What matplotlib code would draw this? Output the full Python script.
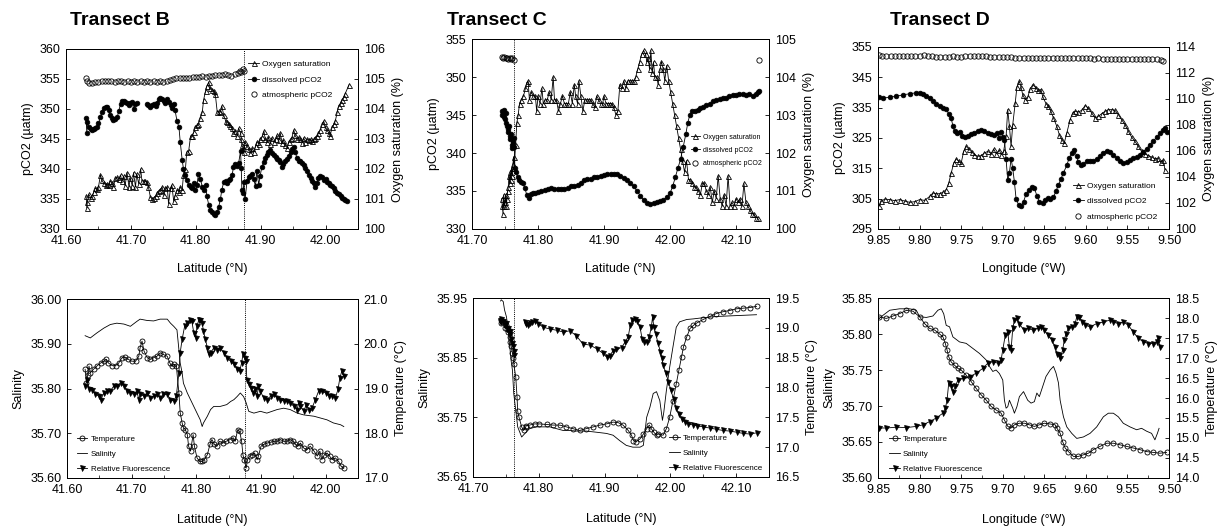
import matplotlib.pyplot as plt
import numpy as np
from matplotlib.ticker import MultipleLocator, FormatStrFormatter

plt.rcParams['font.family'] = ['Liberation Sans', 'DejaVu Sans']
plt.rcParams['font.size'] = 9
plt.rcParams['axes.linewidth'] = 0.7

nan = np.nan

# ---------------- Transect B, surface pCO2 / O2 ----------------
b_dissolved = [
    (41.631, 348.5), (41.632, 346.0), (41.633, 347.8), (41.635, 347.0), (41.638, 346.6), (41.640, 346.5),
    (41.643, 346.7), (41.645, 346.9), (41.648, 347.0), (41.650, 347.6), (41.653, 348.6), (41.655, 349.5),
    (41.658, 350.1), (41.661, 350.4), (41.663, 350.3), (41.666, 349.8), (41.668, 349.0), (41.671, 348.5),
    (41.673, 348.2), (41.676, 348.3), (41.679, 348.6), (41.681, 349.6), (41.684, 350.8), (41.686, 351.3),
    (41.689, 351.4), (41.691, 351.2), (41.694, 351.0), (41.697, 350.7), (41.699, 351.0), (41.702, 351.2),
    (41.704, 350.0), (41.707, 350.8), (41.709, 351.0), (41.717, nan),
    (41.725, 350.9), (41.727, 350.7), (41.730, 350.4), (41.733, 350.6), (41.735, 350.8), (41.738, 350.5),
    (41.740, 351.0), (41.743, 351.6), (41.745, 351.9), (41.748, 351.7), (41.751, 351.3), (41.753, 351.0),
    (41.756, 351.7), (41.758, 351.2), (41.761, 350.6), (41.763, 350.2), (41.766, 350.8), (41.768, 349.8),
    (41.771, 348.0), (41.774, 347.0), (41.776, 344.5), (41.779, 341.5), (41.781, 340.0), (41.784, 339.0),
    (41.786, 338.2), (41.789, 337.3), (41.792, 337.0), (41.794, 336.8), (41.797, 337.6), (41.799, 336.5),
    (41.802, 337.3), (41.804, 339.2), (41.807, 338.4), (41.810, 337.0), (41.812, 336.5), (41.815, 337.4),
    (41.817, 335.5), (41.820, 334.0), (41.822, 333.2), (41.825, 332.9), (41.828, 332.5), (41.830, 332.4),
    (41.833, 332.8), (41.835, 333.6), (41.838, 335.0), (41.840, 336.5), (41.843, 337.8), (41.846, 338.0),
    (41.848, 337.7), (41.851, 338.2), (41.853, 338.4), (41.856, 339.0), (41.858, 340.3), (41.861, 340.8),
    (41.864, 340.5), (41.866, 341.0), (41.869, 343.0), (41.870, 340.2), (41.871, 336.5), (41.873, 336.0),
    (41.874, 337.8), (41.876, 335.0), (41.879, 338.0), (41.882, 338.6), (41.884, 338.8), (41.887, 339.2),
    (41.889, 338.3), (41.892, 337.2), (41.894, 339.6), (41.897, 337.4), (41.899, 338.8), (41.902, 340.4),
    (41.905, 341.2), (41.907, 341.9), (41.910, 342.4), (41.912, 342.9), (41.915, 343.1), (41.917, 342.7),
    (41.920, 342.4), (41.923, 342.0), (41.925, 341.6), (41.928, 341.5), (41.930, 341.2), (41.933, 340.4),
    (41.935, 340.9), (41.938, 341.3), (41.941, 341.6), (41.943, 342.2), (41.946, 342.8), (41.948, 343.3),
    (41.951, 343.6), (41.953, 342.9), (41.956, 341.8), (41.959, 341.4), (41.961, 341.3), (41.964, 341.0),
    (41.966, 340.7), (41.969, 340.2), (41.971, 339.6), (41.974, 339.0), (41.977, 338.5), (41.979, 338.0),
    (41.982, 337.6), (41.984, 337.0), (41.987, 337.7), (41.989, 338.5), (41.992, 338.9), (41.995, 338.6),
    (41.997, 338.1), (42.000, 338.4), (42.002, 337.9), (42.005, 337.6), (42.007, 337.3), (42.010, 337.1),
    (42.013, 336.8), (42.015, 336.4), (42.018, 336.0), (42.020, 335.8), (42.023, 335.5), (42.025, 335.2),
    (42.028, 335.0), (42.030, 334.8), (42.033, 334.7),
]
b_oxygen = [
    (41.631, 101.1), (41.632, 100.7), (41.633, 100.9), (41.635, 101.16), (41.638, 101.04), (41.640, 101.1),
    (41.643, 101.24), (41.645, 101.36), (41.648, 101.32), (41.650, 101.4), (41.653, 101.8), (41.655, 101.64),
    (41.658, 101.52), (41.661, 101.48), (41.663, 101.5), (41.666, 101.46), (41.668, 101.6), (41.671, 101.52),
    (41.673, 101.4), (41.676, 101.7), (41.679, 101.72), (41.681, 101.66), (41.684, 101.8), (41.686, 101.6),
    (41.689, 101.76), (41.691, 101.44), (41.694, 101.88), (41.697, 101.4), (41.699, 101.7), (41.702, 101.44),
    (41.704, 101.88), (41.707, 101.4), (41.709, 101.84), (41.712, 101.5), (41.715, 102.0), (41.717, 101.6),
    (41.720, 101.6), (41.722, 101.6), (41.725, 101.56), (41.727, 101.4), (41.730, 101.06), (41.733, 101.0),
    (41.735, 101.04), (41.738, 101.1), (41.740, 101.2), (41.743, 101.28), (41.745, 101.3), (41.748, 101.4),
    (41.751, 101.12), (41.753, 101.36), (41.756, 101.4), (41.758, 100.84), (41.761, 101.36), (41.763, 101.46),
    (41.766, 100.92), (41.768, 101.1), (41.771, 101.3), (41.774, 101.24), (41.776, 101.4), (41.779, 101.3),
    (41.781, 101.8), (41.784, 102.0), (41.786, 102.56), (41.789, 102.6), (41.792, 103.1), (41.794, 103.1),
    (41.797, 103.24), (41.799, 103.4), (41.802, 103.46), (41.804, 103.5), (41.807, 103.7), (41.810, 103.9),
    (41.812, 104.3), (41.815, 104.6), (41.817, 104.76), (41.820, 104.9), (41.822, 104.7), (41.825, 104.64),
    (41.828, 104.6), (41.830, 104.5), (41.833, 103.9), (41.835, 103.92), (41.838, 103.9), (41.840, 104.1),
    (41.843, 103.8), (41.846, 103.6), (41.848, 103.56), (41.851, 103.5), (41.853, 103.44), (41.856, 103.36),
    (41.858, 103.2), (41.861, 103.28), (41.864, 103.1), (41.866, 103.36), (41.869, 103.2), (41.870, 103.0),
    (41.871, 102.8), (41.873, 102.7), (41.874, 102.56), (41.876, 102.9), (41.879, 102.76), (41.882, 102.66),
    (41.884, 102.52), (41.887, 102.7), (41.889, 102.56), (41.892, 102.76), (41.894, 102.9), (41.897, 102.84),
    (41.899, 103.0), (41.902, 103.06), (41.905, 103.26), (41.907, 103.0), (41.910, 102.9), (41.912, 103.06),
    (41.915, 102.84), (41.917, 103.04), (41.920, 102.9), (41.923, 103.0), (41.925, 103.12), (41.928, 102.96),
    (41.930, 103.2), (41.933, 102.88), (41.935, 102.96), (41.938, 102.8), (41.941, 102.7), (41.943, 102.9),
    (41.946, 103.0), (41.948, 103.04), (41.951, 103.3), (41.953, 103.12), (41.956, 103.0), (41.959, 103.06),
    (41.961, 103.0), (41.964, 102.88), (41.966, 103.04), (41.969, 102.9), (41.971, 103.0), (41.974, 102.96),
    (41.977, 103.0), (41.979, 102.92), (41.982, 103.0), (41.984, 103.04), (41.987, 103.1), (41.989, 103.2),
    (41.992, 103.3), (41.995, 103.5), (41.997, 103.6), (42.000, 103.4), (42.002, 103.3), (42.005, 103.2),
    (42.007, 103.1), (42.010, 103.4), (42.013, 103.5), (42.015, 103.6), (42.018, 103.9), (42.020, 104.1),
    (42.023, 104.2), (42.025, 104.3), (42.028, 104.4), (42.030, 104.5), (42.036, 104.8),
]
b_atmos = [
    (41.631, 355.2), (41.633, 354.6), (41.636, 354.4), (41.640, 354.4), (41.645, 354.5), (41.650, 354.5),
    (41.655, 354.6), (41.660, 354.7), (41.665, 354.6), (41.670, 354.6), (41.675, 354.5), (41.680, 354.6),
    (41.685, 354.6), (41.690, 354.5), (41.695, 354.6), (41.700, 354.5), (41.705, 354.6), (41.710, 354.5),
    (41.715, 354.6), (41.720, 354.5), (41.725, 354.6), (41.730, 354.5), (41.735, 354.6), (41.740, 354.5),
    (41.745, 354.6), (41.750, 354.5), (41.755, 354.7), (41.760, 354.8), (41.765, 355.0), (41.770, 355.1),
    (41.775, 355.1), (41.780, 355.1), (41.785, 355.2), (41.790, 355.2), (41.795, 355.3), (41.800, 355.4),
    (41.805, 355.4), (41.810, 355.5), (41.815, 355.4), (41.820, 355.5), (41.825, 355.5), (41.830, 355.6),
    (41.835, 355.6), (41.840, 355.7), (41.845, 355.8), (41.850, 355.7), (41.855, 355.5), (41.860, 355.8),
    (41.865, 356.0), (41.868, 356.4), (41.870, 356.2), (41.872, 356.6), (41.874, 356.3),
]

# ---------------- Transect C, surface pCO2 / O2 ----------------
c_dissolved = [
    (41.745, 345.5), (41.746, 345.0), (41.747, 345.3), (41.748, 345.6), (41.749, 344.8), (41.750, 344.5),
    (41.751, 345.2), (41.752, 344.0), (41.753, 343.6), (41.754, 343.2), (41.755, 342.8), (41.756, 343.5),
    (41.757, 342.3), (41.758, 341.8), (41.759, 342.5), (41.760, 341.0), (41.761, 340.6), (41.762, 341.5),
    (41.763, 340.8), (41.764, 342.0), (41.765, 338.0), (41.767, 337.5), (41.769, 336.8), (41.771, 336.5),
    (41.774, 336.2), (41.777, 336.0), (41.780, 335.4), (41.783, 334.5), (41.786, 334.1), (41.789, 334.6),
    (41.792, 334.7), (41.796, 334.8), (41.800, 334.9), (41.805, 335.0), (41.810, 335.1), (41.815, 335.3),
    (41.820, 335.4), (41.825, 335.3), (41.830, 335.2), (41.835, 335.3), (41.840, 335.2), (41.845, 335.4),
    (41.850, 335.6), (41.855, 335.7), (41.860, 335.8), (41.865, 336.1), (41.870, 336.5), (41.875, 336.6),
    (41.880, 336.6), (41.885, 336.8), (41.890, 336.9), (41.895, 337.0), (41.900, 337.1), (41.905, 337.2),
    (41.910, 337.2), (41.915, 337.3), (41.920, 337.2), (41.925, 337.0), (41.930, 336.7), (41.935, 336.4),
    (41.940, 336.0), (41.945, 335.6), (41.950, 335.0), (41.955, 334.4), (41.960, 333.8), (41.965, 333.4),
    (41.970, 333.3), (41.975, 333.4), (41.980, 333.6), (41.985, 333.7), (41.990, 333.8), (41.995, 334.2),
    (42.000, 334.7), (42.004, 335.6), (42.008, 336.8), (42.012, 338.0), (42.016, 339.2), (42.020, 340.8),
    (42.024, 342.5), (42.027, 344.0), (42.030, 345.0), (42.034, 345.5), (42.038, 345.5), (42.042, 345.7),
    (42.046, 345.9), (42.050, 346.0), (42.055, 346.3), (42.060, 346.5), (42.065, 346.8), (42.070, 347.0),
    (42.075, 347.1), (42.080, 347.2), (42.085, 347.3), (42.090, 347.5), (42.095, 347.6), (42.100, 347.6),
    (42.105, 347.7), (42.110, 347.8), (42.115, 347.6), (42.120, 347.8), (42.125, 347.5), (42.130, 347.8),
    (42.133, 348.0), (42.135, 348.2),
]
c_oxygen = [
    (41.745, 100.8), (41.746, 100.6), (41.747, 100.4), (41.748, 100.9), (41.749, 100.6), (41.750, 100.7),
    (41.751, 100.9), (41.752, 100.6), (41.753, 100.8), (41.754, 101.0), (41.755, 101.1), (41.756, 101.4),
    (41.757, 101.2), (41.758, 101.5), (41.759, 101.3), (41.760, 101.6), (41.761, 101.4), (41.762, 101.7),
    (41.763, 101.9), (41.764, 101.6), (41.766, 102.2), (41.768, 102.8), (41.770, 103.0), (41.772, 103.3),
    (41.775, 103.4), (41.778, 103.5), (41.781, 103.7), (41.783, 103.85), (41.785, 103.9), (41.787, 103.4),
    (41.790, 103.6), (41.793, 103.5), (41.796, 103.5), (41.798, 103.1), (41.800, 103.5), (41.803, 103.3),
    (41.806, 103.7), (41.808, 103.3), (41.811, 103.4), (41.814, 103.4), (41.817, 103.6), (41.820, 103.4),
    (41.823, 104.0), (41.825, 103.4), (41.828, 103.4), (41.831, 103.1), (41.834, 103.3), (41.837, 103.5),
    (41.840, 103.3), (41.843, 103.3), (41.846, 103.3), (41.849, 103.6), (41.852, 103.3), (41.855, 103.8),
    (41.857, 103.5), (41.860, 103.3), (41.862, 103.9), (41.865, 103.5), (41.868, 103.1), (41.871, 103.4),
    (41.874, 103.4), (41.877, 103.4), (41.880, 103.4), (41.883, 103.3), (41.886, 103.2), (41.889, 103.5),
    (41.892, 103.4), (41.895, 103.3), (41.898, 103.3), (41.900, 103.5), (41.903, 103.3), (41.906, 103.3),
    (41.909, 103.3), (41.912, 103.3), (41.915, 103.2), (41.918, 103.0), (41.921, 103.1), (41.924, 103.8),
    (41.927, 103.7), (41.930, 103.9), (41.933, 103.7), (41.936, 103.9), (41.939, 103.9), (41.942, 103.9),
    (41.945, 103.9), (41.948, 104.0), (41.951, 104.2), (41.954, 104.4), (41.957, 104.6), (41.960, 104.7),
    (41.963, 104.6), (41.965, 104.4), (41.967, 104.5), (41.969, 104.2), (41.971, 104.7), (41.973, 104.1),
    (41.975, 104.4), (41.977, 104.0), (41.980, 104.0), (41.982, 103.8), (41.985, 104.2), (41.987, 104.4),
    (41.990, 104.2), (41.992, 103.9), (41.995, 104.3), (41.998, 103.9), (42.001, 103.6), (42.004, 103.3),
    (42.007, 103.0), (42.010, 102.7), (42.013, 102.4), (42.016, 102.1), (42.019, 101.8), (42.022, 101.5),
    (42.025, 101.8), (42.028, 101.3), (42.031, 101.3), (42.034, 101.2), (42.037, 101.1), (42.040, 101.1),
    (42.043, 101.0), (42.046, 100.9), (42.049, 101.2), (42.052, 101.2), (42.055, 101.0), (42.058, 100.9),
    (42.061, 101.1), (42.064, 100.7), (42.067, 101.0), (42.070, 100.8), (42.073, 101.4), (42.076, 100.8),
    (42.079, 100.6), (42.082, 100.9), (42.085, 100.6), (42.088, 101.4), (42.091, 100.6), (42.094, 100.7),
    (42.097, 100.6), (42.100, 100.8), (42.103, 100.7), (42.106, 100.8), (42.109, 100.6), (42.112, 101.2),
    (42.115, 100.7), (42.118, 100.6), (42.121, 100.5), (42.124, 100.4), (42.127, 100.4), (42.130, 100.3),
    (42.133, 100.3),
]
c_atmos = [
    (41.745, 352.6), (41.747, 352.5), (41.749, 352.6), (41.751, 352.5), (41.753, 352.5), (41.755, 352.4),
    (41.757, 352.5), (41.759, 352.4), (41.761, 352.5), (41.763, 352.3), (42.135, 352.3),
]

# ---------------- Transect D, surface pCO2 / O2 ----------------
d_dissolved = [
    (9.849, 338.5), (9.844, 338.2), (9.836, 338.4), (9.828, 338.8), (9.820, 339.2), (9.812, 339.6),
    (9.804, 339.9), (9.800, 339.8), (9.796, 339.5), (9.792, 339.0), (9.788, 338.3), (9.784, 337.2),
    (9.780, 336.3), (9.776, 335.6), (9.772, 335.0), (9.768, 334.4), (9.765, 333.0), (9.762, 331.5),
    (9.760, 329.0), (9.758, 327.2), (9.755, 326.8), (9.752, 327.0), (9.749, 325.8), (9.745, 325.2),
    (9.742, 325.5), (9.738, 326.3), (9.734, 326.8), (9.730, 327.3), (9.726, 327.5), (9.722, 327.2),
    (9.718, 326.8), (9.714, 326.3), (9.710, 325.9), (9.707, 326.5), (9.704, 325.0), (9.702, 327.0),
    (9.700, 325.3), (9.698, 324.5), (9.696, 318.0), (9.694, 311.0), (9.692, 313.5), (9.690, 318.2),
    (9.688, 315.0), (9.686, 310.5), (9.684, 305.0), (9.681, 303.0), (9.678, 302.5), (9.675, 304.0),
    (9.672, 306.5), (9.668, 308.0), (9.665, 309.0), (9.662, 308.5), (9.659, 306.0), (9.656, 304.0),
    (9.652, 303.5), (9.649, 304.5), (9.646, 305.2), (9.643, 305.0), (9.639, 305.5), (9.636, 307.5),
    (9.633, 309.5), (9.630, 311.5), (9.627, 313.5), (9.623, 316.0), (9.620, 318.5), (9.617, 320.0),
    (9.614, 321.0), (9.611, 319.0), (9.609, 317.0), (9.606, 316.0), (9.603, 316.5), (9.599, 317.3),
    (9.595, 317.5), (9.591, 317.3), (9.587, 318.0), (9.583, 319.0), (9.579, 320.2), (9.575, 320.8),
    (9.571, 320.5), (9.567, 319.5), (9.563, 318.5), (9.559, 317.5), (9.555, 316.8), (9.551, 317.0),
    (9.547, 317.8), (9.543, 318.3), (9.539, 318.6), (9.535, 319.5), (9.531, 320.5), (9.527, 321.5),
    (9.523, 322.8), (9.519, 324.0), (9.515, 325.2), (9.511, 326.5), (9.507, 327.5), (9.505, 328.2),
    (9.503, 327.0),
]
d_oxygen = [
    (9.849, 101.74), (9.846, 102.13), (9.842, 102.3), (9.836, 102.26), (9.830, 102.18), (9.824, 102.26),
    (9.818, 102.15), (9.812, 102.05), (9.806, 102.1), (9.800, 102.26), (9.794, 102.2), (9.788, 102.5),
    (9.784, 102.77), (9.780, 102.7), (9.776, 102.72), (9.772, 102.82), (9.768, 103.03), (9.765, 103.54),
    (9.762, 104.3), (9.759, 105.08), (9.756, 105.4), (9.753, 105.2), (9.750, 105.08), (9.747, 105.97),
    (9.744, 106.36), (9.741, 106.15), (9.737, 105.9), (9.734, 105.72), (9.730, 105.59), (9.726, 105.64),
    (9.722, 105.85), (9.718, 105.97), (9.714, 105.8), (9.711, 106.15), (9.708, 105.8), (9.704, 106.05),
    (9.702, 105.72), (9.699, 105.97), (9.696, 107.13), (9.694, 109.18), (9.692, 107.9), (9.690, 106.36),
    (9.688, 108.03), (9.685, 109.7), (9.683, 110.92), (9.680, 111.36), (9.678, 110.92), (9.676, 110.33),
    (9.673, 109.95), (9.670, 110.15), (9.667, 110.77), (9.664, 111.1), (9.660, 110.85), (9.658, 110.67),
    (9.654, 110.72), (9.652, 110.2), (9.648, 109.64), (9.645, 109.44), (9.642, 109.05), (9.639, 108.54),
    (9.635, 107.9), (9.632, 107.26), (9.629, 106.87), (9.626, 106.62), (9.623, 107.38), (9.619, 108.41),
    (9.616, 108.92), (9.613, 109.05), (9.609, 109.0), (9.605, 109.13), (9.601, 109.49), (9.597, 109.3),
    (9.593, 108.92), (9.589, 108.54), (9.585, 108.67), (9.581, 108.87), (9.577, 109.05), (9.573, 109.18),
    (9.569, 109.18), (9.565, 109.13), (9.561, 108.8), (9.557, 108.41), (9.553, 108.03), (9.549, 107.51),
    (9.545, 107.08), (9.541, 106.74), (9.537, 106.36), (9.533, 105.97), (9.529, 105.8), (9.525, 105.64),
    (9.521, 105.54), (9.517, 105.38), (9.513, 105.46), (9.510, 105.13), (9.507, 105.33), (9.505, 104.56),
]
d_atmos = [
    (9.849, 352.3), (9.845, 352.0), (9.840, 351.9), (9.835, 351.9), (9.830, 351.9), (9.825, 351.9),
    (9.820, 351.9), (9.815, 352.0), (9.810, 352.0), (9.805, 352.0), (9.800, 352.1), (9.795, 352.3),
    (9.790, 352.1), (9.785, 351.9), (9.780, 351.8), (9.775, 351.8), (9.770, 351.8), (9.765, 351.8),
    (9.760, 351.9), (9.755, 351.8), (9.750, 351.8), (9.745, 351.9), (9.740, 351.9), (9.735, 352.0),
    (9.730, 352.0), (9.725, 352.0), (9.720, 351.9), (9.715, 351.8), (9.710, 351.7), (9.705, 351.7),
    (9.700, 351.6), (9.695, 351.6), (9.690, 351.6), (9.685, 351.5), (9.680, 351.5), (9.675, 351.5),
    (9.670, 351.5), (9.665, 351.5), (9.660, 351.4), (9.655, 351.5), (9.650, 351.4), (9.645, 351.4),
    (9.640, 351.4), (9.635, 351.4), (9.630, 351.4), (9.625, 351.3), (9.620, 351.4), (9.615, 351.3),
    (9.610, 351.3), (9.605, 351.3), (9.600, 351.3), (9.595, 351.3), (9.590, 351.2), (9.585, 351.3),
    (9.580, 351.2), (9.575, 351.2), (9.570, 351.2), (9.565, 351.2), (9.560, 351.2), (9.555, 351.1),
    (9.550, 351.1), (9.545, 351.1), (9.540, 351.1), (9.535, 351.1), (9.530, 351.0), (9.525, 351.0),
    (9.520, 351.0), (9.515, 350.9), (9.510, 350.7), (9.507, 350.5),
]

# ---------------- Transect B, temperature / salinity / fluorescence ----------------
b_temp = [
    (41.628, 19.43), (41.630, 19.13), (41.632, 19.31), (41.634, 19.5), (41.636, 19.35), (41.641, 19.43),
    (41.646, 19.5), (41.652, 19.57), (41.657, 19.61), (41.661, 19.65), (41.664, 19.57), (41.670, 19.51),
    (41.675, 19.51), (41.680, 19.57), (41.685, 19.69), (41.690, 19.70), (41.695, 19.65), (41.700, 19.61),
    (41.706, 19.61), (41.711, 19.72), (41.713, 19.91), (41.716, 20.06), (41.719, 19.84), (41.724, 19.69),
    (41.729, 19.65), (41.734, 19.69), (41.739, 19.72), (41.744, 19.80), (41.749, 19.76), (41.755, 19.72),
    (41.759, 19.57), (41.762, 19.5), (41.766, 19.54), (41.769, 19.51), (41.773, 18.9), (41.775, 18.46),
    (41.778, 18.23), (41.780, 18.12), (41.783, 18.08), (41.786, 17.97), (41.788, 17.71), (41.791, 17.6),
    (41.795, 17.97), (41.797, 17.71), (41.801, 17.45), (41.805, 17.37), (41.809, 17.37), (41.812, 17.41),
    (41.817, 17.52), (41.821, 17.75), (41.824, 17.86), (41.828, 17.75), (41.832, 17.71), (41.836, 17.82),
    (41.841, 17.78), (41.846, 17.82), (41.852, 17.86), (41.857, 17.9), (41.860, 17.82), (41.864, 18.08),
    (41.867, 18.04), (41.870, 17.82), (41.872, 17.52), (41.874, 17.41), (41.877, 17.22), (41.879, 17.41),
    (41.883, 17.49), (41.886, 17.52), (41.890, 17.56), (41.894, 17.41), (41.896, 17.49), (41.900, 17.71),
    (41.904, 17.75), (41.909, 17.78), (41.915, 17.8), (41.920, 17.82), (41.925, 17.82), (41.930, 17.86),
    (41.935, 17.82), (41.940, 17.82), (41.945, 17.86), (41.950, 17.82), (41.953, 17.75), (41.957, 17.71),
    (41.961, 17.78), (41.966, 17.67), (41.971, 17.63), (41.976, 17.71), (41.982, 17.6), (41.987, 17.49),
    (41.991, 17.6), (41.994, 17.41), (41.998, 17.52), (42.002, 17.56), (42.006, 17.49), (42.010, 17.41),
    (42.015, 17.45), (42.020, 17.37), (42.024, 17.26), (42.028, 17.22),
]
b_salinity = [
    (41.628, 35.918), (41.636, 35.913), (41.646, 35.924), (41.657, 35.935), (41.667, 35.943), (41.677, 35.946),
    (41.688, 35.944), (41.698, 35.939), (41.708, 35.950), (41.713, 35.955), (41.724, 35.952), (41.734, 35.951),
    (41.744, 35.955), (41.755, 35.955), (41.760, 35.946), (41.765, 35.939), (41.770, 35.931), (41.773, 35.887),
    (41.775, 35.857), (41.778, 35.835), (41.780, 35.812), (41.786, 35.790), (41.791, 35.775), (41.796, 35.760),
    (41.801, 35.745), (41.806, 35.730), (41.809, 35.715), (41.811, 35.723), (41.817, 35.738), (41.822, 35.753),
    (41.827, 35.760), (41.837, 35.760), (41.847, 35.764), (41.853, 35.771), (41.858, 35.775), (41.863, 35.782),
    (41.868, 35.790), (41.873, 35.782), (41.877, 35.768), (41.881, 35.749), (41.889, 35.745), (41.899, 35.749),
    (41.909, 35.745), (41.925, 35.753), (41.935, 35.756), (41.945, 35.753), (41.956, 35.745), (41.966, 35.741),
    (41.982, 35.738), (41.992, 35.734), (42.002, 35.730), (42.012, 35.723), (42.023, 35.719), (42.028, 35.715),
]
b_fluor = [
    (41.628, 19.05), (41.631, 19.2), (41.634, 18.98), (41.639, 18.96), (41.644, 18.87), (41.649, 18.83),
    (41.652, 18.75), (41.657, 18.9), (41.662, 18.94), (41.667, 18.94), (41.672, 19.05), (41.677, 19.05),
    (41.683, 19.13), (41.688, 19.05), (41.693, 18.94), (41.698, 18.9), (41.703, 18.87), (41.708, 18.94),
    (41.711, 18.75), (41.713, 18.87), (41.719, 18.83), (41.724, 18.9), (41.729, 18.79), (41.734, 18.83),
    (41.739, 18.87), (41.744, 18.79), (41.749, 18.87), (41.755, 18.87), (41.760, 18.75), (41.765, 18.72),
    (41.769, 18.83), (41.773, 19.35), (41.775, 19.8), (41.778, 20.1), (41.782, 20.4), (41.786, 20.47),
    (41.790, 20.54), (41.793, 20.5), (41.796, 20.25), (41.799, 20.13), (41.801, 20.4), (41.804, 20.54),
    (41.806, 20.54), (41.809, 20.47), (41.811, 20.28), (41.814, 20.1), (41.817, 19.91), (41.819, 19.76),
    (41.822, 19.8), (41.827, 19.91), (41.832, 19.87), (41.837, 19.91), (41.842, 19.8), (41.847, 19.69),
    (41.853, 19.61), (41.858, 19.54), (41.863, 19.43), (41.867, 19.39), (41.870, 19.57), (41.872, 19.76),
    (41.875, 19.69), (41.877, 19.61), (41.878, 19.2), (41.881, 19.09), (41.884, 19.01), (41.888, 18.9),
    (41.890, 18.98), (41.894, 18.83), (41.896, 19.05), (41.899, 18.94), (41.904, 18.79), (41.909, 18.75),
    (41.915, 18.83), (41.920, 18.87), (41.925, 18.79), (41.930, 18.75), (41.935, 18.72), (41.940, 18.72),
    (41.945, 18.68), (41.951, 18.6), (41.956, 18.53), (41.958, 18.68), (41.961, 18.6), (41.966, 18.49),
    (41.970, 18.64), (41.974, 18.53), (41.979, 18.57), (41.984, 18.75), (41.989, 18.94), (41.994, 18.94),
    (42.000, 18.9), (42.005, 18.83), (42.010, 18.83), (42.015, 18.79), (42.019, 18.98), (42.022, 19.24),
    (42.025, 19.39), (42.028, 19.28),
]

# ---------------- Transect C, temperature / salinity / fluorescence ----------------
c_temp = [
    (41.742, 19.13), (41.743, 19.08), (41.746, 19.1), (41.748, 19.0), (41.750, 19.04), (41.752, 18.98),
    (41.753, 18.93), (41.756, 18.85), (41.757, 18.76), (41.758, 18.7), (41.760, 18.57), (41.761, 18.5),
    (41.762, 18.4), (41.765, 18.18), (41.767, 17.84), (41.768, 17.6), (41.770, 17.5), (41.774, 17.34),
    (41.777, 17.28), (41.780, 17.33), (41.781, 17.36), (41.786, 17.37), (41.794, 17.39), (41.801, 17.39),
    (41.812, 17.38), (41.822, 17.37), (41.832, 17.37), (41.842, 17.34), (41.852, 17.31), (41.862, 17.28),
    (41.872, 17.31), (41.883, 17.34), (41.893, 17.37), (41.903, 17.39), (41.913, 17.42), (41.921, 17.41),
    (41.928, 17.37), (41.936, 17.28), (41.941, 17.2), (41.944, 17.11), (41.948, 17.09), (41.954, 17.14),
    (41.959, 17.22), (41.964, 17.31), (41.968, 17.37), (41.971, 17.31), (41.975, 17.25), (41.979, 17.2),
    (41.982, 17.22), (41.989, 17.2), (41.994, 17.31), (41.999, 17.5), (42.004, 17.78), (42.009, 18.06),
    (42.013, 18.29), (42.017, 18.51), (42.020, 18.68), (42.025, 18.85), (42.030, 18.99), (42.035, 19.04),
    (42.040, 19.08), (42.050, 19.14), (42.060, 19.19), (42.070, 19.24), (42.080, 19.27), (42.090, 19.29),
    (42.101, 19.32), (42.111, 19.33), (42.121, 19.34), (42.131, 19.36),
]
c_salinity = [
    (41.742, 35.945), (41.743, 35.947), (41.746, 35.944), (41.748, 35.930), (41.751, 35.918), (41.753, 35.900),
    (41.756, 35.868), (41.758, 35.845), (41.760, 35.829), (41.762, 35.790), (41.765, 35.762), (41.768, 35.734),
    (41.774, 35.717), (41.779, 35.723), (41.786, 35.731), (41.796, 35.734), (41.807, 35.734), (41.817, 35.734),
    (41.827, 35.731), (41.837, 35.728), (41.847, 35.728), (41.857, 35.727), (41.872, 35.727), (41.888, 35.725),
    (41.903, 35.723), (41.913, 35.720), (41.923, 35.711), (41.933, 35.703), (41.943, 35.700), (41.954, 35.700),
    (41.959, 35.703), (41.964, 35.750), (41.969, 35.767), (41.974, 35.790), (41.979, 35.793), (41.984, 35.778),
    (41.988, 35.745), (41.990, 35.758), (41.994, 35.795), (41.999, 35.834), (42.004, 35.868), (42.009, 35.901),
    (42.014, 35.910), (42.025, 35.914), (42.035, 35.915), (42.050, 35.917), (42.070, 35.919), (42.090, 35.920),
    (42.111, 35.921), (42.131, 35.922),
]
c_fluor = [
    (41.741, 19.12), (41.742, 19.15), (41.743, 19.1), (41.746, 19.12), (41.748, 19.05), (41.750, 19.08),
    (41.752, 18.98), (41.753, 19.0), (41.756, 18.9), (41.757, 18.95), (41.758, 18.82), (41.760, 18.75),
    (41.761, 18.7), (41.762, 18.62), (41.763, 18.55), (41.770, nan),
    (41.779, 19.1), (41.781, 19.07), (41.784, 19.04), (41.786, 19.08), (41.789, 19.1), (41.794, 19.11),
    (41.799, 19.07), (41.807, 19.01), (41.817, 18.98), (41.827, 18.96), (41.837, 18.93), (41.847, 18.95),
    (41.857, 18.87), (41.867, 18.73), (41.878, 18.71), (41.888, 18.65), (41.898, 18.57), (41.903, 18.51),
    (41.908, 18.53), (41.913, 18.62), (41.918, 18.64), (41.926, 18.67), (41.931, 18.76), (41.936, 18.85),
    (41.939, 19.04), (41.942, 19.13), (41.946, 19.15), (41.949, 19.12), (41.954, 19.01), (41.957, 18.82),
    (41.960, 18.76), (41.964, 18.76), (41.968, 18.85), (41.971, 19.01), (41.973, 19.18), (41.975, 19.01),
    (41.978, 18.9), (41.981, 18.75), (41.985, 18.6), (41.987, 18.5), (41.989, 18.38), (41.993, 18.25),
    (41.997, 18.1), (42.001, 17.95), (42.005, 17.8), (42.009, 17.65), (42.013, 17.55), (42.017, 17.47),
    (42.022, 17.42), (42.027, 17.39), (42.035, 17.37), (42.040, 17.36), (42.050, 17.34), (42.060, 17.32),
    (42.070, 17.3), (42.080, 17.28), (42.090, 17.27), (42.101, 17.25), (42.111, 17.23), (42.121, 17.22),
    (42.131, 17.24),
]

# ---------------- Transect D, temperature / salinity / fluorescence ----------------
d_temp = [
    (9.849, 18.03), (9.840, 17.99), (9.832, 18.05), (9.824, 18.11), (9.816, 18.19), (9.808, 18.17),
    (9.800, 18.03), (9.794, 17.86), (9.788, 17.74), (9.782, 17.7), (9.776, 17.6), (9.772, 17.53),
    (9.769, 17.36), (9.767, 17.2), (9.765, 17.03), (9.762, 16.9), (9.758, 16.82), (9.754, 16.74),
    (9.750, 16.7), (9.744, 16.57), (9.738, 16.41), (9.732, 16.24), (9.726, 16.08), (9.720, 15.95),
    (9.714, 15.79), (9.708, 15.7), (9.702, 15.62), (9.698, 15.45), (9.694, 15.29), (9.690, 15.25),
    (9.686, 15.33), (9.680, 15.37), (9.674, 15.37), (9.668, 15.33), (9.662, 15.29), (9.656, 15.33),
    (9.650, 15.37), (9.643, 15.35), (9.637, 15.33), (9.635, 15.25), (9.631, 15.12), (9.628, 14.91),
    (9.625, 14.75), (9.621, 14.66), (9.615, 14.54), (9.609, 14.54), (9.603, 14.58), (9.597, 14.62),
    (9.591, 14.71), (9.583, 14.79), (9.575, 14.87), (9.567, 14.87), (9.559, 14.83), (9.551, 14.79),
    (9.543, 14.75), (9.535, 14.71), (9.527, 14.66), (9.519, 14.64), (9.511, 14.62), (9.503, 14.64),
]
d_salinity = [
    (9.849, 35.821), (9.844, 35.826), (9.836, 35.833), (9.824, 35.835), (9.812, 35.835), (9.804, 35.833),
    (9.800, 35.824), (9.792, 35.823), (9.784, 35.825), (9.778, 35.833), (9.774, 35.835), (9.771, 35.828),
    (9.768, 35.812), (9.764, 35.810), (9.760, 35.796), (9.752, 35.789), (9.744, 35.787), (9.736, 35.780),
    (9.728, 35.773), (9.720, 35.764), (9.716, 35.755), (9.712, 35.748), (9.708, 35.750), (9.704, 35.745),
    (9.700, 35.736), (9.698, 35.708), (9.696, 35.697), (9.694, 35.699), (9.692, 35.708), (9.688, 35.697),
    (9.686, 35.690), (9.683, 35.699), (9.680, 35.713), (9.675, 35.720), (9.670, 35.708), (9.666, 35.704),
    (9.662, 35.706), (9.659, 35.718), (9.656, 35.713), (9.652, 35.727), (9.648, 35.741), (9.643, 35.750),
    (9.639, 35.755), (9.636, 35.746), (9.633, 35.732), (9.631, 35.708), (9.627, 35.685), (9.623, 35.671),
    (9.617, 35.662), (9.611, 35.655), (9.603, 35.657), (9.595, 35.662), (9.587, 35.671), (9.579, 35.685),
    (9.573, 35.690), (9.567, 35.690), (9.561, 35.685), (9.555, 35.676), (9.547, 35.671), (9.539, 35.667),
    (9.533, 35.669), (9.527, 35.665), (9.521, 35.662), (9.517, 35.653), (9.514, 35.662), (9.512, 35.669),
]
d_fluor = [
    (9.849, 15.25), (9.840, 15.25), (9.828, 15.27), (9.816, 15.26), (9.804, 15.29), (9.796, 15.33),
    (9.788, 15.41), (9.780, 15.5), (9.772, 15.62), (9.769, 15.74), (9.767, 15.95), (9.765, 16.37),
    (9.762, 16.29), (9.760, 16.16), (9.757, 16.29), (9.754, 16.45), (9.748, 16.49), (9.740, 16.53),
    (9.732, 16.62), (9.724, 16.74), (9.718, 16.87), (9.712, 16.91), (9.706, 16.87), (9.702, 16.95),
    (9.700, 17.2), (9.697, 17.57), (9.694, 17.65), (9.692, 17.28), (9.690, 17.2), (9.688, 17.74),
    (9.686, 17.95), (9.683, 17.99), (9.680, 17.86), (9.675, 17.7), (9.670, 17.74), (9.664, 17.7),
    (9.658, 17.74), (9.654, 17.78), (9.650, 17.7), (9.646, 17.57), (9.641, 17.45), (9.637, 17.28),
    (9.635, 17.11), (9.632, 17.07), (9.631, 16.99), (9.628, 17.2), (9.626, 17.45), (9.624, 17.61),
    (9.621, 17.74), (9.617, 17.78), (9.613, 17.86), (9.611, 18.03), (9.608, 18.03), (9.605, 17.91),
    (9.601, 17.82), (9.595, 17.78), (9.587, 17.86), (9.579, 17.9), (9.571, 17.95), (9.567, 17.9),
    (9.561, 17.86), (9.555, 17.9), (9.549, 17.82), (9.543, 17.65), (9.537, 17.49), (9.531, 17.41),
    (9.525, 17.36), (9.519, 17.36), (9.515, 17.41), (9.513, 17.49), (9.511, 17.28),
]

# station marks (dotted verticals)
b_station = 41.875
c_station = 41.763


def xy(pairs):
    x, y = zip(*pairs)
    return np.array(x), np.array(y)


def setup(rect, xlim, xmajor, xminor, ylim, yticks, ylim2, yticks2, yfmt, y2fmt):
    ax = fig.add_axes(rect)
    ax2 = ax.twinx()
    ax.set_xlim(*xlim)
    ax.xaxis.set_major_locator(MultipleLocator(xmajor))
    ax.xaxis.set_minor_locator(MultipleLocator(xminor))
    ax.xaxis.set_major_formatter(FormatStrFormatter('%.2f'))
    ax.set_ylim(*ylim)
    ax.set_yticks(yticks)
    ax.yaxis.set_major_formatter(FormatStrFormatter(yfmt))
    ax2.set_ylim(*ylim2)
    ax2.set_yticks(yticks2)
    ax2.yaxis.set_major_formatter(FormatStrFormatter(y2fmt))
    for a in (ax, ax2):
        a.tick_params(which='major', direction='in', length=3, width=0.6, labelsize=9, pad=4)
        a.tick_params(which='minor', direction='in', length=2, width=0.5)
        for s in a.spines.values():
            s.set_linewidth(0.7)
    return ax, ax2


fig = plt.figure(figsize=(12.32, 5.28), dpi=100)
fig.patch.set_facecolor('white')

lw = 0.6
tri = dict(color='k', lw=lw, marker='^', ms=3.6, mfc='none', mew=0.6)
dot = dict(color='k', lw=lw, marker='o', ms=3.4, mfc='k', mew=0.5)
ring = dict(color='k', lw=0, marker='o', ms=3.8, mfc='none', mew=0.6, linestyle='none')
circ = dict(color='k', lw=lw, marker='o', ms=3.6, mfc='none', mew=0.6)
vtri = dict(color='k', lw=lw, marker='v', ms=3.6, mfc='k', mew=0.5)


def top_panel(rect, xlim, ylim, yticks, ylim2, yticks2, dis, oxy, atm, xlabel, station,
              leg_anchor, leg_size, major=0.1, minor=0.05):
    ax, ax2 = setup(rect, xlim, major, minor, ylim, yticks, ylim2, yticks2, '%d', '%d')
    ax.plot(*xy(dis), label='dissolved pCO2', zorder=3, **dot)
    ax.plot(*xy(atm), label='atmospheric pCO2', zorder=3, **ring)
    ax2.plot(*xy(oxy), label='Oxygen saturation', zorder=3, **tri)
    if station is not None:
        ax.axvline(station, color='k', lw=0.7, ls=(0, (1, 1.2)))
    ax.set_xlabel(xlabel, labelpad=12)
    ax.set_ylabel('pCO2 (µatm)', labelpad=4)
    ax2.set_ylabel('Oxygen saturation (%)', labelpad=5)
    h1, l1 = ax2.get_legend_handles_labels()
    h2, l2 = ax.get_legend_handles_labels()
    ax2.legend(h1 + h2, l1 + l2, loc='upper left', bbox_to_anchor=leg_anchor, frameon=False,
               fontsize=leg_size, handlelength=1.3, handletextpad=0.4, labelspacing=0.9,
               borderpad=0, numpoints=1)
    return ax, ax2


def bottom_panel(rect, xlim, ylim, yticks, ylim2, yticks2, temp, sal, flu, xlabel, station,
                 leg_anchor, yfmt, major=0.1, minor=0.05):
    ax, ax2 = setup(rect, xlim, major, minor, ylim, yticks, ylim2, yticks2, yfmt, '%.1f')
    ax.plot(*xy(sal), color='k', lw=0.6, label='Salinity', zorder=3)
    ax2.plot(*xy(temp), label='Temperature', zorder=3, **circ)
    ax2.plot(*xy(flu), label='Relative Fluorescence', zorder=3, **vtri)
    if station is not None:
        ax.axvline(station, color='k', lw=0.7, ls=(0, (1, 1.2)))
    ax.set_xlabel(xlabel, labelpad=13)
    ax.set_ylabel('Salinity', labelpad=4)
    ax2.set_ylabel('Temperature (°C)', labelpad=5)
    h1, l1 = ax2.get_legend_handles_labels()
    h2, l2 = ax.get_legend_handles_labels()
    handles = [h1[0], h2[0], h1[1]]
    labels = [l1[0], l2[0], l1[1]]
    ax2.legend(handles, labels, loc='upper left', bbox_to_anchor=leg_anchor, frameon=False,
               fontsize=5.8, handlelength=1.3, handletextpad=0.4, labelspacing=0.9,
               borderpad=0, numpoints=1)
    return ax, ax2


lat_label = 'Latitude (°N)'
lon_label = 'Longitude (°W)'

top_panel([0.0536, 0.5663, 0.2370, 0.3409], (41.60, 42.05), (330, 360), range(330, 361, 5),
          (100, 106), range(100, 107), b_dissolved, b_oxygen, b_atmos, lat_label, b_station,
          (0.61, 0.96), 6)
top_panel([0.3831, 0.5663, 0.2411, 0.3598], (41.70, 42.15), (330, 355), range(330, 356, 5),
          (100, 105), range(100, 106), c_dissolved, c_oxygen, c_atmos, lat_label, c_station,
          (0.725, 0.52), 5)
top_panel([0.7127, 0.5663, 0.2362, 0.3447], (9.85, 9.50), (295, 355), range(295, 356, 10),
          (100, 114), range(100, 115, 2), d_dissolved, d_oxygen, d_atmos, lon_label, None,
          (0.655, 0.28), 6, major=0.05, minor=0.025)

bottom_panel([0.0544, 0.0947, 0.2362, 0.3390], (41.60, 42.05), (35.60, 36.00),
             np.arange(35.60, 36.001, 0.10), (17.0, 21.0), np.arange(17.0, 21.01, 1.0),
             b_temp, b_salinity, b_fluor, lat_label, b_station, (0.02, 0.26), '%.2f')
bottom_panel([0.3839, 0.0966, 0.2403, 0.3390], (41.70, 42.15), (35.65, 35.95),
             np.arange(35.65, 35.951, 0.10), (16.5, 19.5), np.arange(16.5, 19.51, 0.5),
             c_temp, c_salinity, c_fluor, lat_label, c_station, (0.65, 0.26), '%.2f')
bottom_panel([0.7127, 0.0947, 0.2362, 0.3409], (9.85, 9.50), (35.60, 35.85),
             np.arange(35.60, 35.851, 0.05), (14.0, 18.5), np.arange(14.0, 18.51, 0.5),
             d_temp, d_salinity, d_fluor, lon_label, None, (0.025, 0.26), '%.2f',
             major=0.05, minor=0.025)

for x, name in [(0.0568, 'Transect B'), (0.3628, 'Transect C'), (0.7224, 'Transect D')]:
    fig.text(x, 0.962, name, fontsize=14, fontweight='bold', va='center', ha='left')

fig.savefig('out.png', dpi=100, facecolor='white')
